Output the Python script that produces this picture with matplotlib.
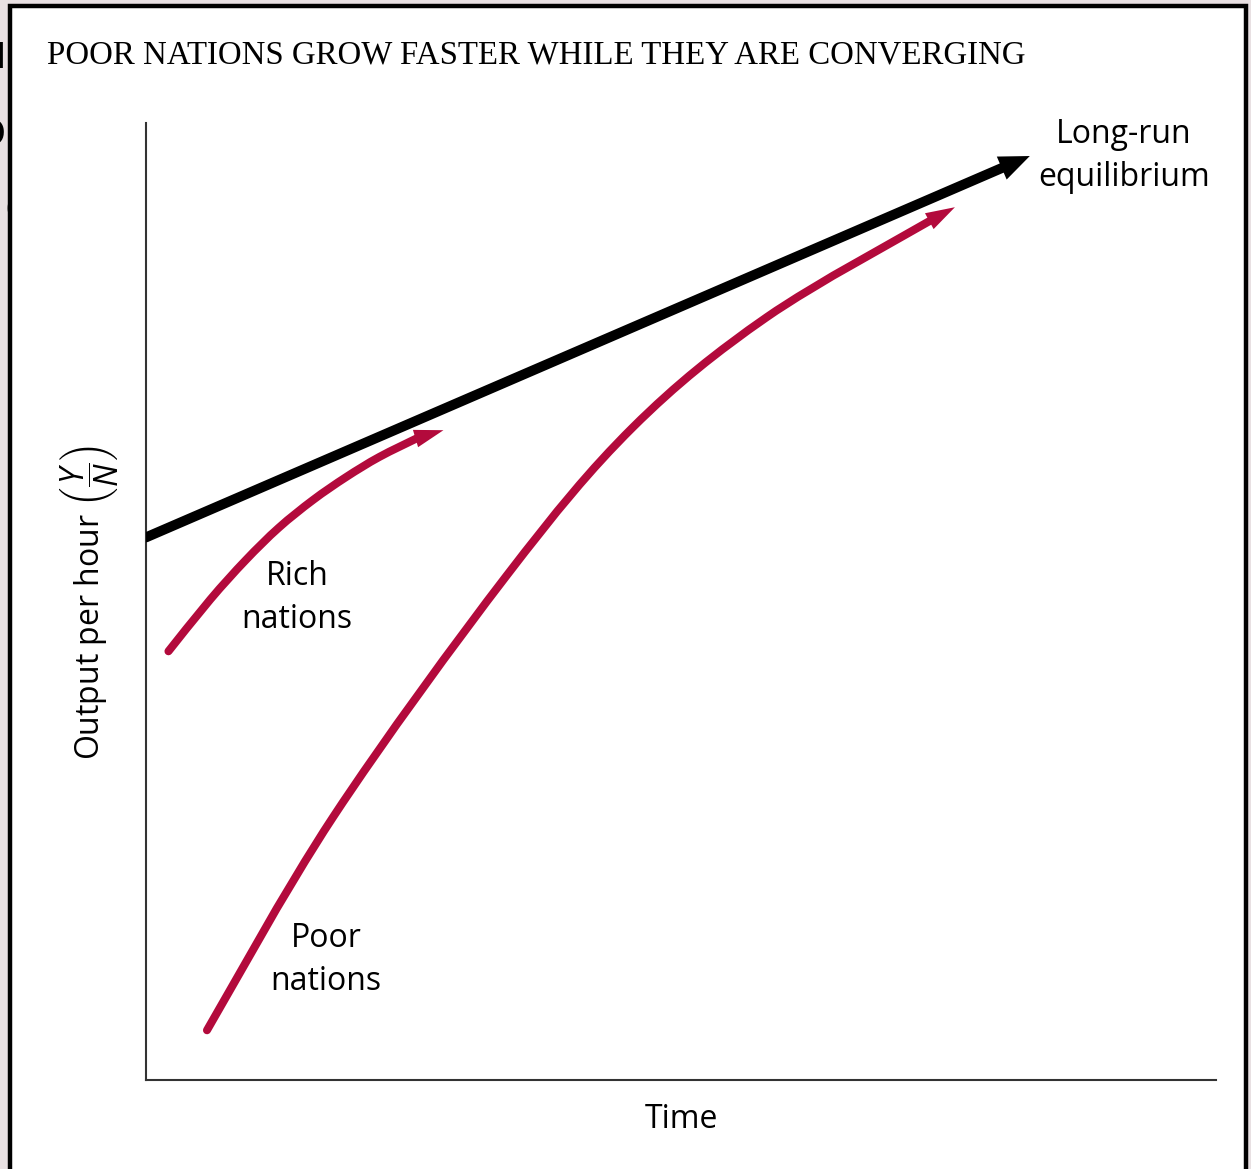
import numpy as np
import matplotlib
matplotlib.use('Agg')
from matplotlib import pyplot as plt
from matplotlib.patches import Rectangle, PathPatch
from matplotlib.path import Path

# curve points (x = time, y = output per hour, arbitrary units)
longrun_x = [0.0, 8.02, 8.26]
longrun_y = [5.67, 9.54, 9.655]

rich_x = [0.21, 0.60, 0.93, 1.24, 1.56, 1.87, 2.18, 2.54, 2.78]
rich_y = [4.48, 5.02, 5.43, 5.77, 6.06, 6.30, 6.51, 6.71, 6.79]

poor_x = [0.57, 1.75, 3.37, 4.55, 5.80, 7.33, 7.56]
poor_y = [0.52, 2.75, 5.27, 6.82, 7.97, 8.98, 9.12]

title = 'POOR NATIONS GROW FASTER WHILE THEY ARE CONVERGING'
red = '#b30a3c'
sans = 'Open Sans'

plt.rcParams['mathtext.fontset'] = 'custom'
plt.rcParams['mathtext.rm'] = sans
plt.rcParams['mathtext.it'] = sans + ':italic'

W, H = 1251, 1169
fig = plt.figure(figsize=(W / 100, H / 100), dpi=100, facecolor='#e8e0e2')

# cropped letters of the slide behind the panel
for ch, px, py in [('u', -8, 55), ('o', -8, 132), ('c', 16, 208)]:
    fig.text(px / W, 1 - py / H, ch, fontsize=34, family=sans, color='black',
             ha='center', va='center', zorder=0)

# white panel with black frame
fig.patches.append(Rectangle((10 / W, -0.05), 1236 / W, 1.05 - 6 / H, transform=fig.transFigure,
                             facecolor='white', edgecolor='black', linewidth=3.2, zorder=0.5))

ax = fig.add_axes([146 / W, 1 - 1080 / H, 1070 / W, 957 / H], zorder=1)
ax.patch.set_alpha(0)
ax.set_xlim(0, 10)
ax.set_ylim(0, 10)
for s in ['top', 'right']:
    ax.spines[s].set_visible(False)
for s in ['left', 'bottom']:
    ax.spines[s].set_color('#333333')
    ax.spines[s].set_linewidth(1.5)
ax.set_xticks([])
ax.set_yticks([])


def smooth_path(xs, ys):
    # catmull-rom through the read points, drawn as cubic bezier segments
    p = np.column_stack([xs, ys])
    pad = np.vstack([p[0], p, p[-1]])
    verts = [p[0]]
    codes = [Path.MOVETO]
    for i in range(1, len(pad) - 2):
        p0, p1, p2, p3 = pad[i - 1], pad[i], pad[i + 1], pad[i + 2]
        verts += [p1 + (p2 - p0) / 6, p2 - (p3 - p1) / 6, p2]
        codes += [Path.CURVE4] * 3
    return Path(verts, codes)


def arrow_curve(xs, ys, color, lw, head_len, head_w):
    ax.add_patch(PathPatch(smooth_path(xs[:-1], ys[:-1]), fill=False, edgecolor=color, lw=lw,
                           capstyle='round', zorder=3))
    ax.annotate('', xy=(xs[-1], ys[-1]), xytext=(xs[-2], ys[-2]),
                arrowprops=dict(arrowstyle='-|>,head_length=%g,head_width=%g' % (head_len, head_w),
                                color=color, lw=0, shrinkA=0, shrinkB=0, mutation_scale=1),
                zorder=4)


arrow_curve(longrun_x, longrun_y, 'black', 7.2, 22, 9)
arrow_curve(rich_x, rich_y, red, 5.8, 21, 6.5)
arrow_curve(poor_x, poor_y, red, 5.8, 21, 6.5)

fs = 23
ls = 1.38
ax.text(1124 / W, 1 - 156 / H, 'Long-run\nequilibrium', transform=fig.transFigure, fontsize=fs,
        family=sans, ha='center', va='center', linespacing=ls)
ax.text(297 / W, 1 - 598 / H, 'Rich\nnations', transform=fig.transFigure, fontsize=fs,
        family=sans, ha='center', va='center', linespacing=ls)
ax.text(326 / W, 1 - 960 / H, 'Poor\nnations', transform=fig.transFigure, fontsize=fs,
        family=sans, ha='center', va='center', linespacing=ls)
ax.text(681 / W, 1 - 1120 / H, 'Time', transform=fig.transFigure, fontsize=fs,
        family=sans, ha='center', va='center')
ax.text(90 / W, 1 - 603 / H, r'Output per hour $\left(\dfrac{Y}{N}\right)$', transform=fig.transFigure,
        fontsize=fs, family=sans, ha='center', va='center', rotation=90)

fig.text(47 / W, 1 - 55 / H, title, fontsize=23.7, family='Liberation Serif', ha='left',
         va='center', zorder=2)

fig.savefig('out.png', dpi=100, facecolor=fig.get_facecolor())
